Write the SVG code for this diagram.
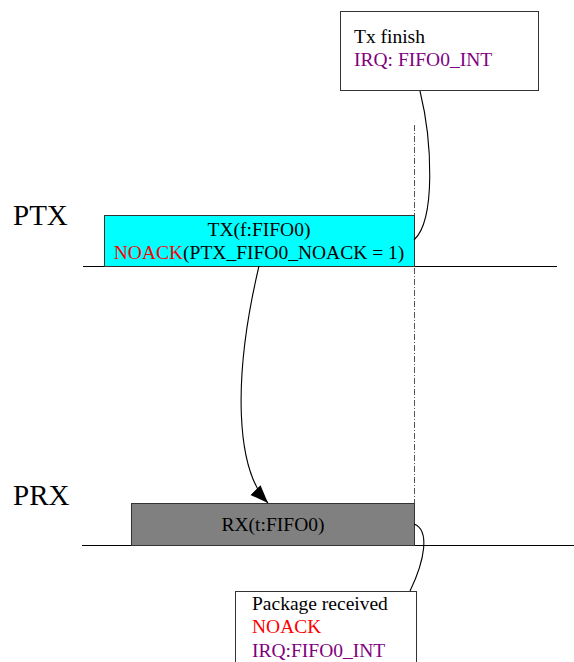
<svg xmlns="http://www.w3.org/2000/svg" width="574" height="662" viewBox="0 0 574 662">
  <style>
    text { font-family: "Liberation Serif", "Times New Roman", serif; font-size: 19.5px; fill: #000; }
    .big { font-size: 29px; }
    .red { fill: #ff0000; }
    .purple { fill: #800080; }
    .box { stroke: #333; stroke-width: 1; }
    .axis { stroke: #000; stroke-width: 1; fill: none; }
    .conn { stroke: #000; stroke-width: 1.1; fill: none; }
    .dash { stroke: #555; stroke-width: 1; stroke-dasharray: 6 2 1 2; fill: none; }
  </style>
  <defs>
    <marker id="arrow" markerUnits="userSpaceOnUse" markerWidth="20" markerHeight="16" refX="18" refY="7" orient="auto">
      <path d="M0,0 L18,7 L0,14 Z" fill="#000"/>
    </marker>
  </defs>

  <g id="lanes">
    <text class="big" x="13" y="225">PTX</text>
    <text class="big" x="13" y="505">PRX</text>
    <line class="axis" x1="83" y1="266.5" x2="557" y2="266.5"/>
    <line class="axis" x1="82" y1="545.5" x2="574" y2="545.5"/>
    <line class="dash" x1="414.5" y1="125" x2="414.5" y2="545"/>
  </g>

  <g id="tx-finish">
    <rect class="box" x="340.5" y="11.5" width="198" height="79" fill="#fff"/>
    <text x="354" y="43">Tx finish</text>
    <text class="purple" x="354" y="66">IRQ: FIFO0_INT</text>
  </g>

  <g id="tx">
    <rect class="box" x="104.5" y="215.5" width="310" height="51" fill="#00ffff"/>
    <text x="259" y="236" text-anchor="middle">TX(f:FIFO0)</text>
    <text x="259" y="259" text-anchor="middle"><tspan class="red">NOACK</tspan>(PTX_FIFO0_NOACK = 1)</text>
  </g>

  <g id="rx">
    <rect class="box" x="131.5" y="503.5" width="283" height="42" fill="#808080"/>
    <text x="273" y="531" text-anchor="middle">RX(t:FIFO0)</text>
  </g>

  <g id="package-received">
    <rect class="box" x="235.5" y="591.5" width="181" height="80" fill="#fff"/>
    <text x="252" y="610">Package received</text>
    <text class="red" x="252" y="633">NOACK</text>
    <text class="purple" x="252" y="657">IRQ:FIFO0_INT</text>
  </g>

  <g id="connectors">
    <path class="conn" d="M420,91 C432,140 436,220 414,240"/>
    <path class="conn" d="M259,266 C232,380 236,470 268,503" marker-end="url(#arrow)"/>
    <path class="conn" d="M414,524 C430,530 425,560 410,591"/>
  </g>
</svg>
